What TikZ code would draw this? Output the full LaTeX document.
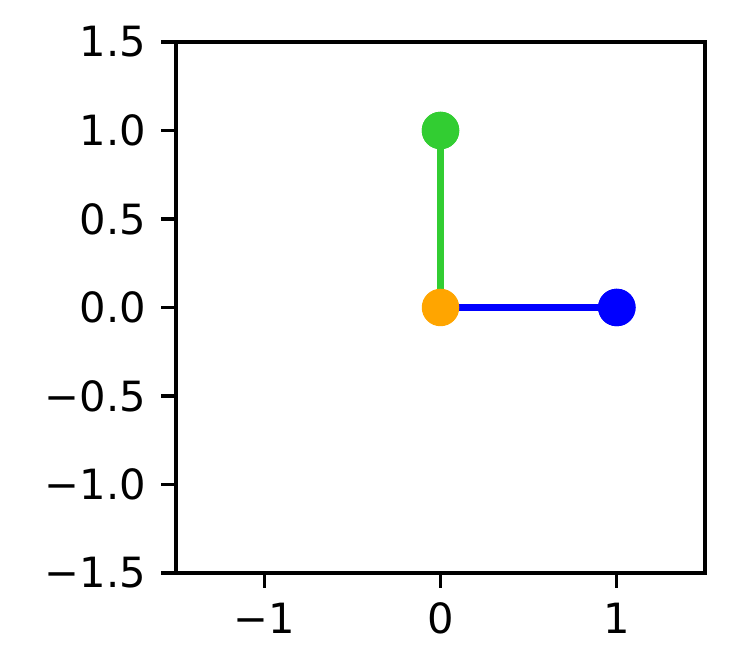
\documentclass[tikz,border=0pt]{standalone}
\usepackage{fontspec}
\setmainfont{DejaVu Sans}
\definecolor{mgreen}{RGB}{50,205,50}
\definecolor{morange}{RGB}{255,165,0}
\definecolor{mblue}{RGB}{0,0,255}
\tikzset{
  spine/.style={line width=0.8pt, line cap=rect},
  tick/.style={line width=0.8pt},
  ticklab/.style={inner sep=0pt, font=\fontsize{10}{12}\selectfont},
  seg/.style={line width=1.5pt},
  dot/.style={circle, inner sep=0pt, minimum size=37.5*0.24pt}
}
\begin{document}
\begin{tikzpicture}[x=0.24pt,y=0.24pt]
\useasboundingbox (0,0) rectangle (749,659);
% axes box
\draw[spine] (176,86) rectangle (705,617);
% x ticks
\foreach \px/\lab [count=\i] in {264.2/{−1},440.5/0,616.8/1}{
  \draw[tick] (\px,86) -- (\px,71.4);
  \node[ticklab, anchor=north] (xlab\i) at (\px,57) {\lab};
}
% y ticks
\foreach \py/\lab [count=\i] in {86/{−1.5},174.5/{−1.0},263/{−0.5},351.5/{0.0},440/{0.5},528.5/{1.0},617/{1.5}}{
  \draw[tick] (176,\py) -- (161.4,\py);
  \node[ticklab, anchor=east] (ylab\i) at (146.8,\py) {\lab};
}
% data
\node[dot, fill=mgreen] (g) at (440.5,528.5) {};
\node[dot, fill=mblue] (b) at (616.8,351.5) {};
\coordinate (o) at (440.5,351.5);
\draw[seg, mgreen] (o) -- (g.center);
\draw[seg, mblue] (o) -- (b.center);
\node[dot, fill=mgreen] (g2) at (g.center) {};
\node[dot, fill=mblue] (b2) at (b.center) {};
\node[dot, fill=morange] (og) at (o) {};
\end{tikzpicture}
\end{document}
